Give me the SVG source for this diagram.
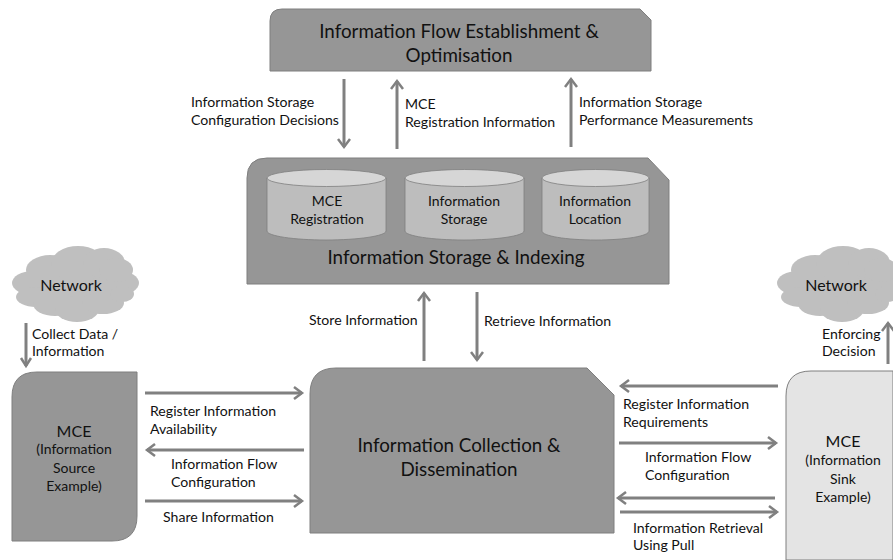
<svg xmlns="http://www.w3.org/2000/svg" width="893" height="560" viewBox="0 0 893 560">
<style>
text{font-family:"Lato","Carlito","Liberation Sans",sans-serif;fill:#111;text-anchor:middle}
.lbl{font-size:14.100px;text-anchor:start}
.c{font-size:14px}
.big{font-size:18.800px}
.mid{font-size:16px}
.dark{fill:#969696;stroke:#7f7f7f;stroke-width:1}
.cyl{fill:#bdbdbd;stroke:#7f7f7f;stroke-width:.8}
.cap{fill:#d6d6d6;stroke:#7f7f7f;stroke-width:.8}
.cloud{fill:#bfbfbf}
.conn line{stroke:#808080;stroke-width:3;fill:none}
.conn path{stroke:#808080;stroke-width:2.500;fill:none}
</style>
<defs>
<g id="cloudShape" class="cloud">
<ellipse cx="76" cy="284" rx="52" ry="26"/>
<ellipse cx="33" cy="283" rx="21" ry="12"/>
<ellipse cx="119" cy="283" rx="20" ry="12"/>
<ellipse cx="50" cy="270" rx="24" ry="15"/>
<ellipse cx="78" cy="264" rx="27" ry="18"/>
<ellipse cx="104" cy="263" rx="21" ry="15"/>
<ellipse cx="116" cy="270" rx="17" ry="12"/>
<ellipse cx="36" cy="297" rx="20" ry="10"/>
<ellipse cx="55" cy="304" rx="22" ry="12"/>
<ellipse cx="77" cy="309" rx="22" ry="13"/>
<ellipse cx="103" cy="303" rx="21" ry="11"/>
<ellipse cx="122" cy="294" rx="12" ry="8"/>
</g>
</defs>
<g id="flow-establishment">
<path class="dark" d="M282 9H640L651 20V71H270V21Q270 9 282 9Z"/>
<text class="big" x="459" y="38">Information Flow Establishment &amp;</text>
<text class="big" x="459" y="62">Optimisation</text>
</g>
<g id="storage-indexing">
<path class="dark" d="M267 158H648L669 180V284H247V178Q247 158 267 158Z"/>
<text class="big" x="456" y="264">Information Storage &amp; Indexing</text>
</g>
<g id="mce-registration">
<path class="cyl" d="M267 178V231C267 236 294 240 326 240S386 236 386 231V178Z"/>
<ellipse class="cap" cx="326.500" cy="178" rx="59.500" ry="8.500"/>
<text class="c" x="327" y="206">MCE</text><text class="c" x="327" y="224">Registration</text>
</g>
<g id="information-storage">
<path class="cyl" d="M405 178V231C405 236 432 240 464 240S524 236 524 231V178Z"/>
<ellipse class="cap" cx="464.500" cy="178" rx="59.500" ry="8.500"/>
<text class="c" x="464" y="206">Information</text><text class="c" x="464" y="224">Storage</text>
</g>
<g id="information-location">
<path class="cyl" d="M542 178V231C542 236 566 240 596 240S649 236 649 231V178Z"/>
<ellipse class="cap" cx="595.500" cy="178" rx="53.500" ry="8.500"/>
<text class="c" x="595" y="206">Information</text><text class="c" x="595" y="224">Location</text>
</g>
<g id="collection-dissemination">
<path class="dark" d="M336 368H587L614 395V533H310V394Q310 368 336 368Z"/>
<text class="big" x="459" y="452">Information Collection &amp;</text>
<text class="big" x="459" y="476">Dissemination</text>
</g>
<g id="mce-source">
<path class="dark" d="M37 372H137V516Q137 541 112 541H12V397Q12 372 37 372Z"/>
<text class="mid" x="74" y="437">MCE</text>
<text class="c" x="74" y="454">(Information</text><text class="c" x="74" y="473">Source</text><text class="c" x="74" y="491">Example)</text>
</g>
<g id="mce-sink">
<path d="M811 371H893V560H786V396Q786 371 811 371Z" fill="#e4e4e4" stroke="#7f7f7f"/>
<text class="mid" x="843" y="447">MCE</text>
<text class="c" x="843" y="465">(Information</text><text class="c" x="843" y="484">Sink</text><text class="c" x="843" y="502">Example)</text>
</g>
<g id="network-left">
<use href="#cloudShape"/>
<text class="mid" x="71" y="291">Network</text>
</g>
<g id="network-right">
<use href="#cloudShape" transform="translate(765 0)"/>
<text class="mid" x="836" y="291">Network</text>
</g>
<g id="connectors" class="conn">
<line x1="344" y1="79" x2="344" y2="147"/><path d="M338 139L344 147L350 139"/>
<line x1="397" y1="149" x2="397" y2="81"/><path d="M391 89L397 81L403 89"/>
<line x1="571" y1="147" x2="571" y2="79"/><path d="M565 87L571 79L577 87"/>
<line x1="424" y1="361" x2="424" y2="293"/><path d="M418 301L424 293L430 301"/>
<line x1="477" y1="292" x2="477" y2="360"/><path d="M471 352L477 360L483 352"/>
<line x1="26" y1="323" x2="26" y2="366"/><path d="M21 358L26 366L31 358"/>
<line x1="888" y1="364" x2="888" y2="323"/><path d="M882 331L888 323L894 331"/>
<line x1="145" y1="393" x2="302" y2="393"/><path d="M294 387L302 393L294 399"/>
<line x1="304" y1="450" x2="147" y2="450"/><path d="M155 444L147 450L155 456"/>
<line x1="145" y1="501" x2="302" y2="501"/><path d="M294 495L302 501L294 507"/>
<line x1="778" y1="386" x2="621" y2="386"/><path d="M629 380L621 386L629 392"/>
<line x1="619" y1="443" x2="776" y2="443"/><path d="M768 437L776 443L768 449"/>
<line x1="775" y1="498" x2="618" y2="498"/><path d="M626 492L618 498L626 504"/>
<line x1="620" y1="512" x2="777" y2="512"/><path d="M769 506L777 512L769 518"/>
</g>
<g id="labels">
<text class="lbl" x="191" y="107">Information Storage</text><text class="lbl" x="191" y="125">Configuration Decisions</text>
<text class="lbl" x="405" y="109">MCE</text><text class="lbl" x="405" y="127">Registration Information</text>
<text class="lbl" x="579" y="107">Information Storage</text><text class="lbl" x="579" y="125">Performance Measurements</text>
<text class="lbl" x="309" y="325">Store Information</text>
<text class="lbl" x="484" y="326">Retrieve Information</text>
<text class="lbl" x="32" y="339">Collect Data /</text><text class="lbl" x="32" y="356">Information</text>
<text class="lbl" x="822" y="339">Enforcing</text><text class="lbl" x="822" y="356">Decision</text>
<text class="lbl" x="150" y="416">Register Information</text><text class="lbl" x="150" y="434">Availability</text>
<text class="lbl" x="171" y="469">Information Flow</text><text class="lbl" x="171" y="487">Configuration</text>
<text class="lbl" x="163" y="522">Share Information</text>
<text class="lbl" x="623" y="409">Register Information</text><text class="lbl" x="623" y="427">Requirements</text>
<text class="lbl" x="645" y="462">Information Flow</text><text class="lbl" x="645" y="480">Configuration</text>
<text class="lbl" x="633" y="533">Information Retrieval</text><text class="lbl" x="633" y="550">Using Pull</text>
</g>
</svg>
